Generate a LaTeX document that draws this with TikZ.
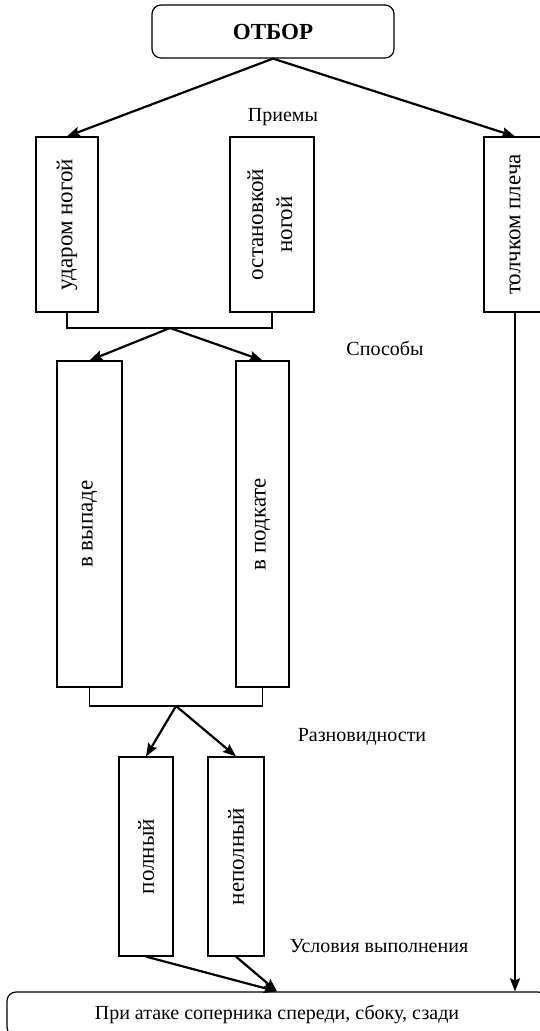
\documentclass[tikz,border=0pt]{standalone}
\usepackage{fontspec}
\setmainfont{Liberation Serif}
\usetikzlibrary{arrows.meta}

\newcommand{\vtext}[1]{\rotatebox{90}{\fontsize{23}{28}\selectfont #1}}

\begin{document}
\begin{tikzpicture}[x=1pt,y=-1pt,
  font=\fontsize{20}{24}\selectfont,
  box/.style={draw,line width=1.2pt,inner sep=0pt},
  rbox/.style={box,rounded corners=9pt},
  arr/.style={line width=2.2pt,-{Stealth[length=13pt,width=10pt,inset=2pt]}},
  link/.style={line width=1.2pt},
  lbl/.style={inner sep=0pt}]
\useasboundingbox (0,0) rectangle (539,1031);

% Top box
\node[rbox,minimum width=242,minimum height=53] (otbor) at (273,31.5) {\fontsize{23}{27}\selectfont\textbf{ОТБОР}};

% Boxes: Приемы
\node[box,minimum width=62,minimum height=175] (udar) at (67,224.5) {\vtext{ударом ногой}};
\node[box,minimum width=84,minimum height=175] (ostan) at (272,224.5) {\vtext{\begin{tabular}{@{}c@{}}остановкой\\[1pt]ногой\end{tabular}}};
\node[box,minimum width=62,minimum height=175] (tolch) at (515,224.5) {\vtext{толчком плеча}};

% Boxes: Способы
\node[box,minimum width=65,minimum height=326] (vypad) at (89.5,524) {\vtext{в выпаде}};
\node[box,minimum width=53,minimum height=326] (podkat) at (262.5,524) {\vtext{в подкате}};

% Boxes: Разновидности
\node[box,minimum width=54,minimum height=199] (poln) at (146,856.5) {\vtext{полный}};
\node[box,minimum width=56,minimum height=199] (nepoln) at (236,856.5) {\vtext{неполный}};

% Bottom box
\node[rbox,minimum width=540,minimum height=44] (ataka) at (277,1014) {При атаке соперника спереди, сбоку, сзади};

% Text Nodes
\node[lbl] (priemy) at (283,117) {Приемы};
\node[lbl] (sposoby) at (385,348) {Способы};
\node[lbl] (raznov) at (362,737) {Разновидности};
\node[lbl] (uslov) at (379,946) {Условия выполнения};

% Joints
\coordinate (j1) at (170,328);
\coordinate (j2) at (176,706);

% Connectors
\draw[arr] (otbor.south) -- (udar.north);
\draw[arr] (otbor.south) -- (tolch.north);
\draw[link] (udar.south) |- (j1) -| (ostan.south);
\draw[arr] (j1) -- (vypad.north);
\draw[arr] (j1) -- (podkat.north);
\draw[link] (vypad.south) |- (j2) -| (podkat.south);
\draw[arr] (j2) -- (poln.north);
\draw[arr] (j2) -- (nepoln.north);
\draw[arr] (poln.south) -- (ataka.north);
\draw[arr] (nepoln.south) -- (ataka.north);
\draw[arr] (tolch.south) -- (tolch.south |- ataka.north);

\end{tikzpicture}
\end{document}
